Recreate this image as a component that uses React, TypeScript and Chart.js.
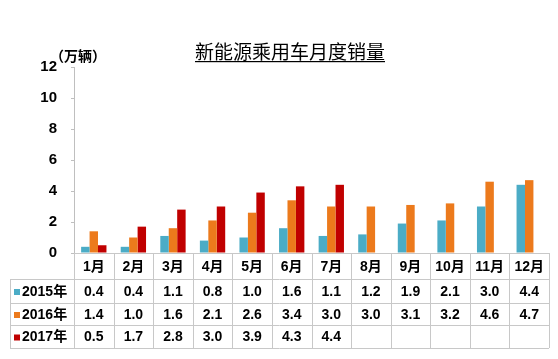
import React, { useEffect, useRef } from "react";
import { Chart, registerables } from "chart.js";

Chart.register(...registerables);

const months = ["1月", "2月", "3月", "4月", "5月", "6月", "7月", "8月", "9月", "10月", "11月", "12月"];
const seriesNames = ["2015年", "2016年", "2017年"];
const sales2015 = [0.4, 0.4, 1.1, 0.8, 1.0, 1.6, 1.1, 1.2, 1.9, 2.1, 3.0, 4.4];
const sales2016 = [1.4, 1.0, 1.6, 2.1, 2.6, 3.4, 3.0, 3.0, 3.1, 3.2, 4.6, 4.7];
const sales2017: (number | null)[] = [0.5, 1.7, 2.8, 3.0, 3.9, 4.3, 4.4, null, null, null, null, null];
const colors = ["#4bacc6", "#ec7a1c", "#c00000"];
const title = "新能源乘用车月度销量";
const unitLabel = "（万辆）";

const FONT = "Arial, 'Liberation Sans', 'Noto Sans CJK SC', sans-serif";

export default function App() {
  const ref = useRef<HTMLCanvasElement>(null);
  useEffect(() => {
    const series = [sales2015, sales2016, sales2017];
    const tablePlugin = {
      id: "tablePlugin",
      afterDraw(chart: any) {
        const ctx = chart.ctx as CanvasRenderingContext2D;
        const xs = chart.scales.x;
        const area = chart.chartArea;
        const colW = (area.right - area.left) / months.length;
        const top = area.bottom;
        const rowY = [top, 279, 303, 325, 348];
        const tableLeft = 10;
        ctx.save();
        // title
        ctx.fillStyle = "#000";
        ctx.font = `19px ${FONT}`;
        ctx.textAlign = "center";
        ctx.textBaseline = "alphabetic";
        const tx = 290;
        ctx.fillText(title, tx, 59);
        const tw = ctx.measureText(title).width;
        ctx.fillRect(tx - tw / 2, 61, tw, 1.2);
        // unit label
        ctx.font = `bold 14px ${FONT}`;
        ctx.textAlign = "left";
        ctx.fillText(unitLabel, 50, 61);
        // grid lines
        ctx.strokeStyle = "#c8c8c8";
        ctx.lineWidth = 1;
        ctx.beginPath();
        ctx.moveTo(area.left, rowY[0] + 0.5);
        ctx.lineTo(area.right, rowY[0] + 0.5);
        for (let r = 1; r < rowY.length; r++) {
          ctx.moveTo(tableLeft, rowY[r] + 0.5);
          ctx.lineTo(area.right, rowY[r] + 0.5);
        }
        for (let c = 0; c <= months.length; c++) {
          const x = Math.round(area.left + c * colW) + 0.5;
          ctx.moveTo(x, rowY[0]);
          ctx.lineTo(x, rowY[4]);
        }
        ctx.moveTo(tableLeft + 0.5, rowY[1]);
        ctx.lineTo(tableLeft + 0.5, rowY[4]);
        ctx.stroke();
        // month labels
        ctx.fillStyle = "#000";
        ctx.font = `bold 14px ${FONT}`;
        ctx.textAlign = "center";
        ctx.textBaseline = "middle";
        months.forEach((m, i) => {
          ctx.fillText(m, xs.getPixelForValue(i), (rowY[0] + rowY[1]) / 2 + 1);
        });
        // rows
        series.forEach((s, r) => {
          const cy = (rowY[r + 1] + rowY[r + 2]) / 2 + 1;
          ctx.fillStyle = colors[r];
          ctx.fillRect(14, cy - 3, 6, 6);
          ctx.fillStyle = "#000";
          ctx.textAlign = "left";
          ctx.fillText(seriesNames[r], 22, cy);
          ctx.textAlign = "center";
          s.forEach((v, i) => {
            if (v === null || v === undefined) return;
            ctx.fillText(v.toFixed(1), xs.getPixelForValue(i), cy);
          });
        });
        ctx.restore();
      },
    };
    const chart = new Chart(ref.current!, {
      type: "bar",
      data: {
        labels: months,
        datasets: series.map((s, i) => ({
          label: seriesNames[i],
          data: s,
          backgroundColor: colors[i],
          borderWidth: 0,
          categoryPercentage: 0.64,
          barPercentage: 1.0,
        })),
      },
      options: {
        animation: false,
        responsive: false,
        events: [],
        layout: { padding: { left: 0, top: 67, right: 9, bottom: 359 - 253 } },
        plugins: { legend: { display: false }, title: { display: false }, tooltip: { enabled: false } },
        scales: {
          x: { display: false },
          y: {
            min: 0,
            max: 12,
            afterFit: (s: any) => {
              s.width = 74;
            },
            ticks: {
              stepSize: 2,
              color: "#000",
              padding: 14,
              font: { family: FONT, size: 15, weight: "bold" },
            },
            border: { display: true, color: "#bfbfbf" },
            grid: { drawOnChartArea: false, tickLength: 3, color: "#bfbfbf" },
          },
        },
      },
      plugins: [tablePlugin],
    });
    return () => chart.destroy();
  }, []);
  return (
    <div style={{ position: "fixed", left: 0, top: 0, width: 558, height: 359, background: "#fff" }}>
      <canvas ref={ref} width={558} height={359} style={{ width: 558, height: 359 }} />
    </div>
  );
}
